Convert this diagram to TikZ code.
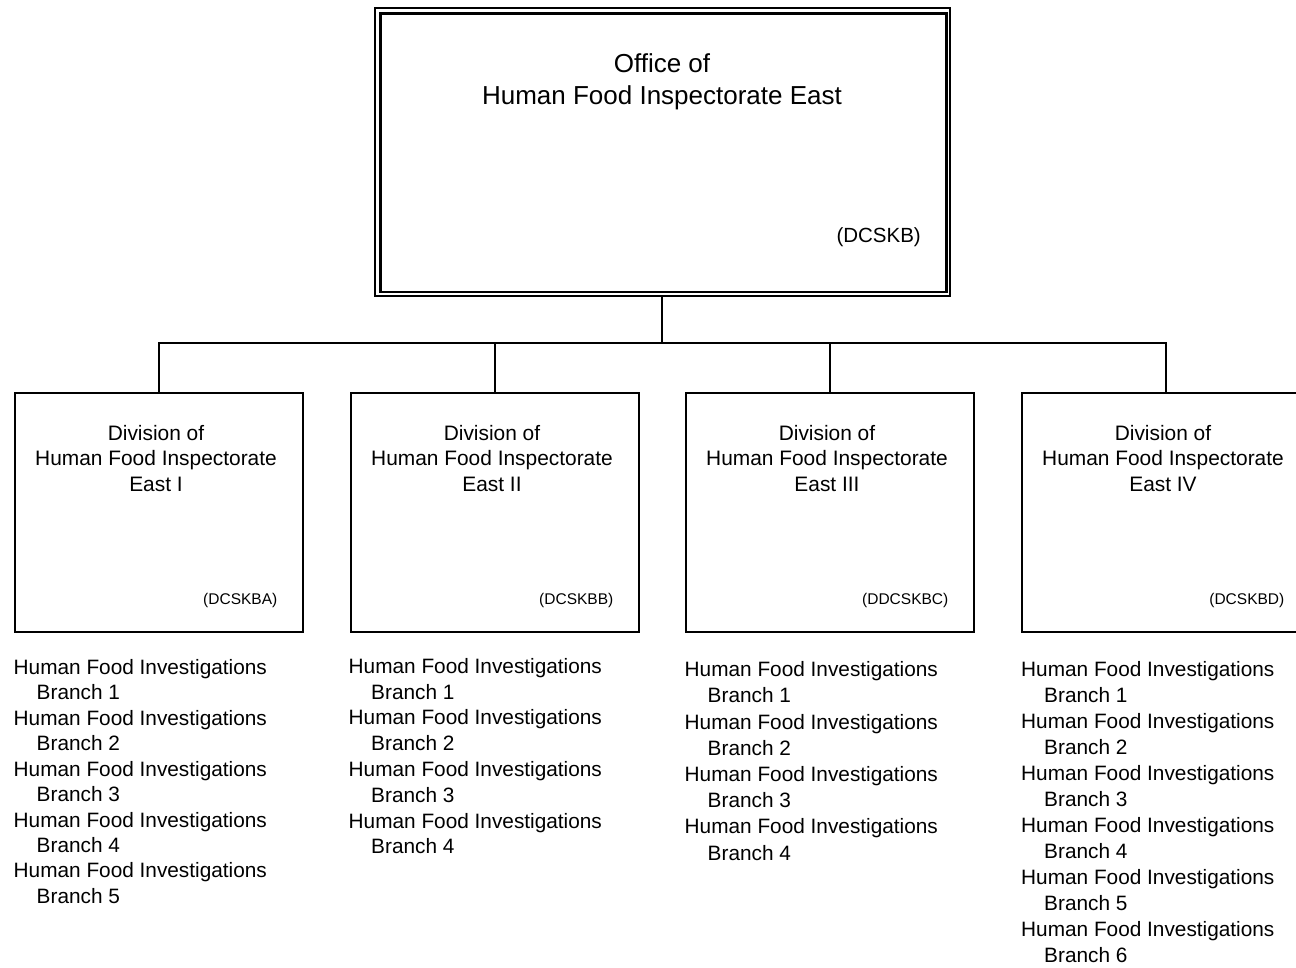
\documentclass[tikz,border=0pt]{standalone}
\usepackage{fontspec}
\setmainfont{Liberation Sans}
\begin{document}
\begin{tikzpicture}[x=1pt,y=-1pt,
  divbox/.style={draw, line width=2pt, minimum width=288pt, minimum height=239pt, inner sep=0pt, anchor=north west},
  conn/.style={line width=2pt},
  ttl/.style={anchor=base, inner sep=0pt, font=\fontsize{26}{31}\selectfont},
  dtxt/.style={anchor=base, inner sep=0pt, font=\fontsize{20.9}{25.7}\selectfont},
  dcode/.style={anchor=base east, inner sep=0pt, font=\fontsize{15.5}{18}\selectfont},
  item/.style={anchor=base west, inner sep=0pt, font=\fontsize{20.8}{25}\selectfont}]
\useasboundingbox (0,0) rectangle (1296,967);
\clip (0,0) rectangle (1296,967);
% top office box (double frame)
\node[draw, line width=1.6pt, minimum width=575pt, minimum height=288pt, inner sep=0pt, anchor=north west] (office) at (374,7) {};
\node[draw, line width=2.7pt, minimum width=566pt, minimum height=278.5pt, inner sep=0pt, anchor=north west] (officein) at (379,12) {};
\node[ttl] (t1) at (662,72.5) {Office of};
\node[ttl] (t2) at (662,104) {Human Food Inspectorate East};
\node[anchor=base east, inner sep=0pt, font=\fontsize{20.5}{24}\selectfont] (tcode) at (921,242.7) {(DCSKB)};
% division boxes
\node[divbox] (d1) at (14,392) {};
\node[divbox] (d2) at (350,392) {};
\node[divbox] (d3) at (685,392) {};
\node[divbox] (d4) at (1021,392) {};
\coordinate (bus) at (661.5,343);
% connectors
\draw[conn] (office.south) -- (office.south |- bus);
\draw[conn] (d1.north) -- (d1.north |- bus) -- (d4.north |- bus) -- (d4.north);
\draw[conn] (d2.north |- bus) -- (d2.north);
\draw[conn] (d3.north |- bus) -- (d3.north);
% division texts
\foreach \n/\r/\c in {d1/I/DCSKBA, d2/II/DCSKBB, d3/III/DDCSKBC, d4/IV/DCSKBD} {
  \node[dtxt] (\n a) at ([xshift=-3pt]\n.north |- 0,440) {Division of};
  \node[dtxt] (\n b) at ([xshift=-3pt]\n.north |- 0,465.7) {Human Food Inspectorate};
  \node[dtxt] (\n c) at ([xshift=-3pt]\n.north |- 0,491) {East \r};
  \node[dcode] (\n code) at ([xshift=-26.5pt]\n.north east |- 0,604) {(\c)};
}
% branch lists
\foreach \i in {1,...,5} {
  \node[item] (l1h\i) at (13.5, {674.3+(2*\i-2)*25.45}) {Human Food Investigations};
  \node[item] (l1b\i) at (36.5, {674.3+(2*\i-1)*25.45}) {Branch \i};
}
\foreach \i in {1,...,4} {
  \node[item] (l2h\i) at (348.5, {673.3+(2*\i-2)*25.8}) {Human Food Investigations};
  \node[item] (l2b\i) at (371, {673.3+(2*\i-1)*25.8}) {Branch \i};
}
\foreach \i in {1,...,4} {
  \node[item] (l3h\i) at (684.5, {676.7+(2*\i-2)*26.2}) {Human Food Investigations};
  \node[item] (l3b\i) at (707.5, {676.7+(2*\i-1)*26.2}) {Branch \i};
}
\foreach \i in {1,...,6} {
  \node[item] (l4h\i) at (1021, {676.7+(2*\i-2)*26.0}) {Human Food Investigations};
  \node[item] (l4b\i) at (1044, {676.7+(2*\i-1)*26.0}) {Branch \i};
}
\end{tikzpicture}
\end{document}
